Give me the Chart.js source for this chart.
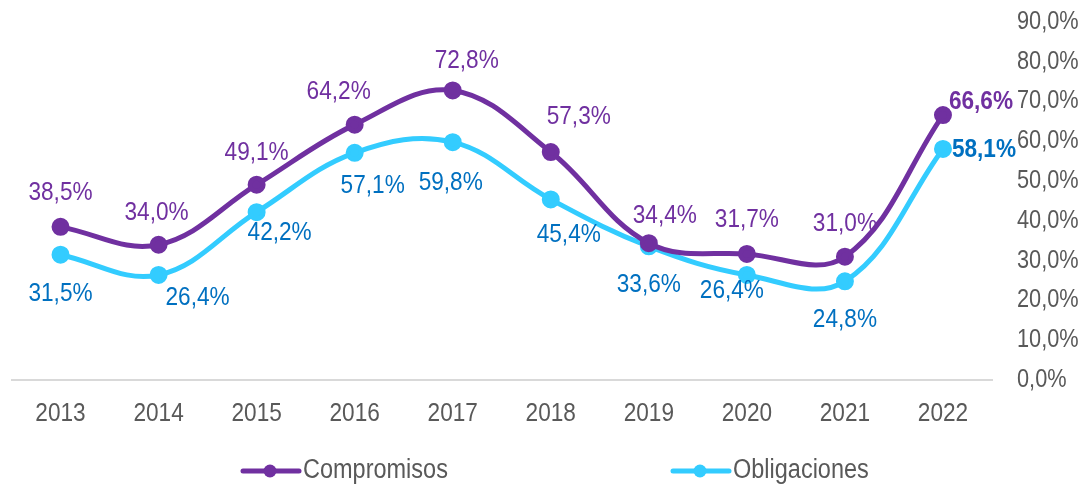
<!DOCTYPE html>
<html>
<head>
<meta charset="utf-8">
<style>
  html, body { margin: 0; padding: 0; background: #fff; }
</style>
</head>
<body>
<canvas id="grafico" width="1086" height="487"></canvas>

<script src="https://cdn.jsdelivr.net/npm/chart.js"></script>

<script>
  // dados
  const anos = ["2013", "2014", "2015", "2016", "2017", "2018", "2019", "2020", "2021", "2022"];
  const compromisos = [38.5, 34.0, 49.1, 64.2, 72.8, 57.3, 34.4, 31.7, 31.0, 66.6];
  const obligaciones = [31.5, 26.4, 42.2, 57.1, 59.8, 45.4, 33.6, 26.4, 24.8, 58.1];
  const ticksEixo = [0, 10, 20, 30, 40, 50, 60, 70, 80, 90];

  const FONTE = "'Liberation Sans', Arial, sans-serif";
  const ESTREITO = 0.87; // simula Arial Narrow
  const ROXO = "#7030A0";
  const CIANO = "#33CCFF";
  const AZUL = "#0070C0";
  const CINZA = "#595959";

  // deslocamento (dx, dy) de cada rótulo em relação ao ponto
  const posRotulos = [
    [[0, -34], [-2, -32], [0, -32], [-16, -33], [14, -30], [28, -35], [16, -27], [0, -34], [0, -33], [38, -13]],
    [[0, 39], [39, 23], [23, 21], [18, 33], [-2, 41], [18, 35], [0, 38], [-15, 16], [0, 38], [41, 1]]
  ];
  const corRotulos = [ROXO, AZUL];

  const pct = v => v.toFixed(1).replace(".", ",") + "%";

  function texto(ctx, txt, x, y, align, font, cor) {
    ctx.save();
    ctx.translate(x, y);
    ctx.scale(ESTREITO, 1);
    ctx.font = font;
    ctx.fillStyle = cor;
    ctx.textAlign = align;
    ctx.textBaseline = "middle";
    ctx.fillText(txt, 0, 0);
    ctx.restore();
  }

  const rotulos = {
    id: "rotulos",
    afterDatasetsDraw(chart) {
      const ctx = chart.ctx;
      chart.data.datasets.forEach((ds, i) => {
        chart.getDatasetMeta(i).data.forEach((pt, j) => {
          const [dx, dy] = posRotulos[i][j];
          const ultimo = j === ds.data.length - 1;
          texto(ctx, pct(ds.data[j]), pt.x + dx, pt.y + dy, "center",
            (ultimo ? "bold " : "") + "26px " + FONTE, corRotulos[i]);
        });
      });
    }
  };

  // rótulos dos eixos (desenhados estreitos)
  const eixos = {
    id: "eixos",
    afterDraw(chart) {
      const ctx = chart.ctx;
      const sx = chart.scales.x, sy = chart.scales.y;
      anos.forEach((a, i) => {
        texto(ctx, a, sx.getPixelForTick(i), sx.top + 34, "center", "26px " + FONTE, CINZA);
      });
      ticksEixo.forEach(v => {
        texto(ctx, pct(v), sy.left + 25, sy.getPixelForValue(v), "left", "25px " + FONTE, CINZA);
      });
    }
  };

  // legenda desenhada à mão (linha com marcador)
  const legenda = {
    id: "legenda",
    afterDraw(chart) {
      const ctx = chart.ctx;
      const y = chart.height - 16;
      const itens = [243, 673];
      chart.data.datasets.forEach((ds, i) => {
        const x = itens[i];
        ctx.save();
        ctx.strokeStyle = ds.borderColor;
        ctx.lineWidth = 5;
        ctx.lineCap = "round";
        ctx.beginPath();
        ctx.moveTo(x, y);
        ctx.lineTo(x + 56, y);
        ctx.stroke();
        ctx.fillStyle = ds.borderColor;
        ctx.beginPath();
        ctx.arc(x + 27, y, 6.5, 0, Math.PI * 2);
        ctx.fill();
        ctx.restore();
        texto(ctx, ds.label, x + 60, y, "left", "27px " + FONTE, CINZA);
      });
    }
  };

  const ctx = document.getElementById("grafico").getContext("2d");

  new Chart(ctx, {
    type: "line",
    data: {
      labels: anos,
      datasets: [{
        label: "Compromisos",
        data: compromisos,
        borderColor: ROXO,
        backgroundColor: ROXO,
        borderWidth: 5,
        pointRadius: 6.5,
        pointHoverRadius: 6.5,
        tension: 0.38
      }, {
        label: "Obligaciones",
        data: obligaciones,
        borderColor: CIANO,
        backgroundColor: CIANO,
        borderWidth: 5,
        pointRadius: 6.5,
        pointHoverRadius: 6.5,
        tension: 0.38
      }]
    },
    options: {
      responsive: false,
      animation: false,
      layout: { padding: { left: 6, top: 22, right: 0, bottom: 60 } },
      plugins: {
        legend: { display: false },
        tooltip: { enabled: false }
      },
      scales: {
        x: {
          offset: true,
          grid: { display: false },
          border: { color: "#D9D9D9", width: 2 },
          ticks: { display: false },
          afterFit: s => { s.height = 47; }
        },
        y: {
          position: "right",
          min: 0,
          max: 90,
          grid: { display: false },
          border: { display: false },
          afterBuildTicks: s => { s.ticks = ticksEixo.map(v => ({ value: v })); },
          ticks: { display: false },
          afterFit: s => { s.width = 94; }
        }
      }
    },
    plugins: [rotulos, eixos, legenda]
  });
</script>
</body>
</html>
